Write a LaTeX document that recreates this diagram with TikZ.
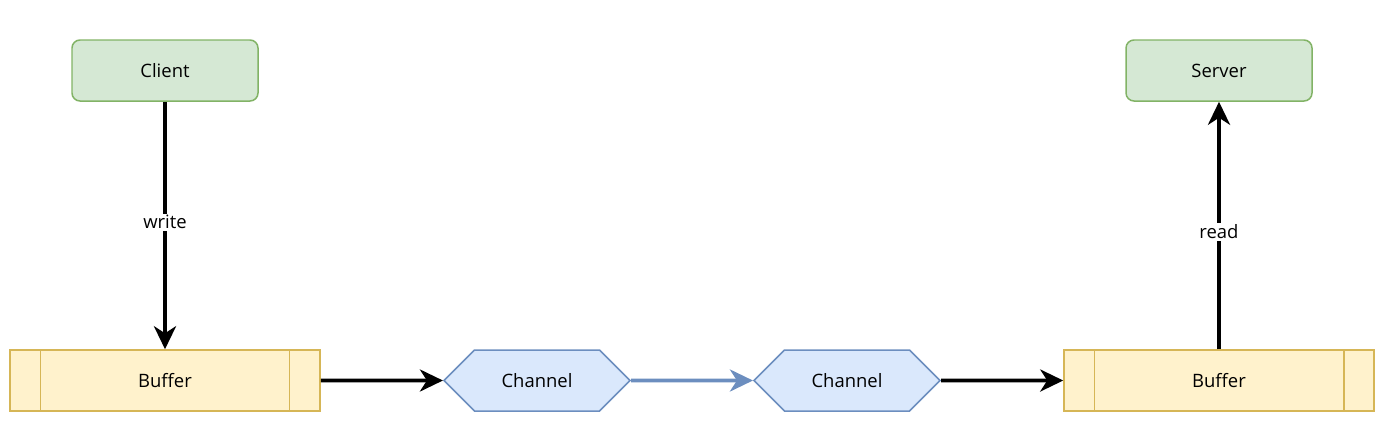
\documentclass[tikz,border=0pt]{standalone}
\usepackage{fontspec}
\setmainfont{Open Sans}
\usetikzlibrary{arrows.meta, shapes.symbols}

\definecolor{greenfill}{HTML}{D5E8D4}
\definecolor{greendraw}{HTML}{82B366}
\definecolor{yellowfill}{HTML}{FFF2CC}
\definecolor{yellowdraw}{HTML}{D6B656}
\definecolor{bluefill}{HTML}{DAE8FC}
\definecolor{bluedraw}{HTML}{6C8EBF}

\begin{document}
\begin{tikzpicture}[
		every node/.style={font=\fontsize{10.5}{12}\selectfont, inner sep=0pt},
		endpoint/.style={rectangle, rounded corners=0.16cm, draw=greendraw, fill=greenfill,
			line width=0.85pt, minimum width=3.72cm, minimum height=1.22cm},
		buffer/.style={rectangle, draw=yellowdraw, fill=yellowfill,
			line width=0.85pt, minimum width=6.2cm, minimum height=1.22cm},
		channel/.style={signal, signal to=east and west, signal pointer angle=90,
			draw=bluedraw, fill=bluefill, line width=0.85pt,
			minimum width=3.72cm, minimum height=1.22cm},
		flow/.style={line width=2.2pt, -{Stealth[length=0.46cm, width=0.44cm, inset=0.14cm]}},
		edgelabel/.style={fill=white, inner sep=1pt}
	]
  \useasboundingbox (0cm, 0cm) rectangle (27.92cm, 8.56cm);
  \node (client) [endpoint] at (3.3cm, 7.15cm) {Client};
  \node (server) [endpoint] at (24.38cm, 7.15cm) {Server};
  \node (buf_in) [buffer] at (3.3cm, 0.95cm) {Buffer};
  \node (buf_out) [buffer] at (24.38cm, 0.95cm) {Buffer};
  \node (ch_a) [channel] at (10.74cm, 0.95cm) {Channel};
  \node (ch_b) [channel] at (16.94cm, 0.95cm) {Channel};
  % side bars of the buffers
  \draw [yellowdraw, line width=0.85pt] ([xshift=0.62cm]buf_in.north west) -- ([xshift=0.62cm]buf_in.south west);
  \draw [yellowdraw, line width=0.85pt] ([xshift=-0.62cm]buf_in.north east) -- ([xshift=-0.62cm]buf_in.south east);
  \draw [yellowdraw, line width=0.85pt] ([xshift=0.62cm]buf_out.north west) -- ([xshift=0.62cm]buf_out.south west);
  \draw [yellowdraw, line width=0.85pt] ([xshift=-0.62cm]buf_out.north east) -- ([xshift=-0.62cm]buf_out.south east);
  \draw [flow] (client) -- node [edgelabel, pos=0.487] {write} (buf_in);
  \draw [flow] (buf_in) -- (ch_a);
  \draw [flow, bluedraw] (ch_a) -- (ch_b);
  \draw [flow] (ch_b) -- (buf_out);
  \draw [flow] (buf_out) -- node [edgelabel, pos=0.475] {read} (server);
\end{tikzpicture}
\end{document}
